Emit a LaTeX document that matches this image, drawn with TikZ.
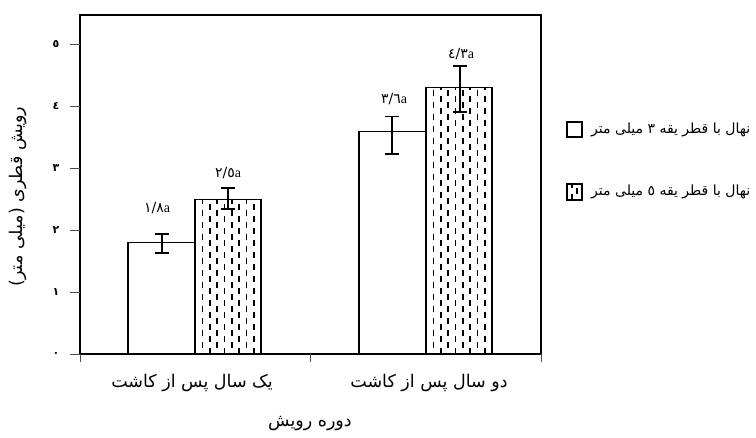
\documentclass[tikz,border=0pt]{standalone}
\usepackage{fontspec}
\setmainfont{Liberation Serif}
\newfontfamily\arabicfont[Script=Arabic]{DejaVu Sans}
\TeXXeTstate=1
\usetikzlibrary{positioning}

\begin{document}
\begin{tikzpicture}[x=1pt, y=1pt,
    framebox/.style={line width=2.8pt},
    plainbar/.style={draw=black, line width=1.2pt},
    dashcol/.style={line width=1.6pt, dash pattern=on 6pt off 6pt},
    errbar/.style={line width=1.6pt},
    tickmark/.style={draw=black!70, line width=0.6pt},
    ticklabel/.style={font=\arabicfont\bfseries\fontsize{11}{12}\selectfont, inner sep=1pt},
    barlabel/.style={font=\fontsize{14}{16}\selectfont, inner sep=1pt},
    faname/.style={font=\arabicfont\fontsize{17.5}{20}\selectfont, inner sep=0pt},
    legendname/.style={font=\arabicfont\fontsize{14}{16}\selectfont, inner sep=0pt, anchor=west},
    ]
    \useasboundingbox (0,0) rectangle (756,437);
    \fill[white] (0,0) rectangle (756,437);

    \begin{scope}[shift={(0,83)}, y=61.9pt]
    %Bars
    \foreach \xl/\xr/\v in {128/195/1.8, 359/426/3.6}
        \draw[plainbar, fill=white] (\xl,0) rectangle (\xr,\v);
    \foreach \xl/\xr/\v in {195/261/2.5, 426/492/4.3} {
        \fill[white] (\xl,0) rectangle (\xr,\v);
        \begin{scope}
            \clip (\xl,0) rectangle (\xr,\v);
            \foreach \k in {1,...,8} {
                \pgfmathsetmacro\ph{mod(\k,2)*6}
                \draw[dashcol, dash phase=\ph pt] (\xl+\k*7.35,0) -- (\xl+\k*7.35,\v);
            }
        \end{scope}
        \draw[plainbar] (\xl,0) rectangle (\xr,\v);
    }

    %Error bars
    \foreach \xc/\lo/\hi in {161.7/1.63/1.94, 228/2.34/2.68, 391.7/3.23/3.84, 460/3.91/4.65}
        \draw[errbar] (\xc-7,\lo) -- (\xc+7,\lo) (\xc,\lo) -- (\xc,\hi) (\xc-7,\hi) -- (\xc+7,\hi);

    %Frame and ticks
    \draw[framebox] (80,0) rectangle (541,5.477);
    \foreach \v/\lab in {0/٠, 1/١, 2/٢, 3/٣, 4/٤, 5/٥} {
        \draw[tickmark] (70,\v) -- (80,\v);
        \node[ticklabel] (tick\v) at (56,\v) {\lab};
    }
    \foreach \xt in {80, 310.7, 541}
        \draw[tickmark] (\xt,0) -- (\xt,-0.13);

    %Labels
    \node[barlabel] (lab1) at (157,2.36) {{\arabicfont ١/٨}a};
    \node[barlabel] (lab2) at (228,2.92) {{\arabicfont ٢/٥}a};
    \node[barlabel] (lab3) at (394,4.12) {{\arabicfont ٣/٦}a};
    \node[barlabel] (lab4) at (461,4.85) {{\arabicfont ٤/٣}a};

    \node[faname] (group1) at (192,-0.468) {\beginR یک سال پس از کاشت\endR};
    \node[faname] (group2) at (429,-0.468) {\beginR دو سال پس از کاشت\endR};
    \node[faname] (xtitle) at (310,-1.115) {\beginR دوره رویش\endR};
    \node[faname, rotate=90] (ytitle) at (18,2.54) {\beginR رویش قطری (میلی متر)\endR};

    %Legend
    \draw[plainbar, fill=white] (567,3.506) rectangle (582,3.748);
    \begin{scope}
        \clip (567,2.488) rectangle (582,2.746);
        \draw[dashcol] (572,2.488) -- (572,2.746);
        \draw[dashcol, dash phase=6pt] (577,2.488) -- (577,2.746);
    \end{scope}
    \draw[plainbar] (567,2.488) rectangle (582,2.746);
    \node[legendname] (leg1) at (591,3.627) {\beginR نهال با قطر یقه ٣ میلی متر\endR};
    \node[legendname] (leg2) at (591,2.617) {\beginR نهال با قطر یقه ٥ میلی متر\endR};
    \end{scope}
\end{tikzpicture}
\end{document}
